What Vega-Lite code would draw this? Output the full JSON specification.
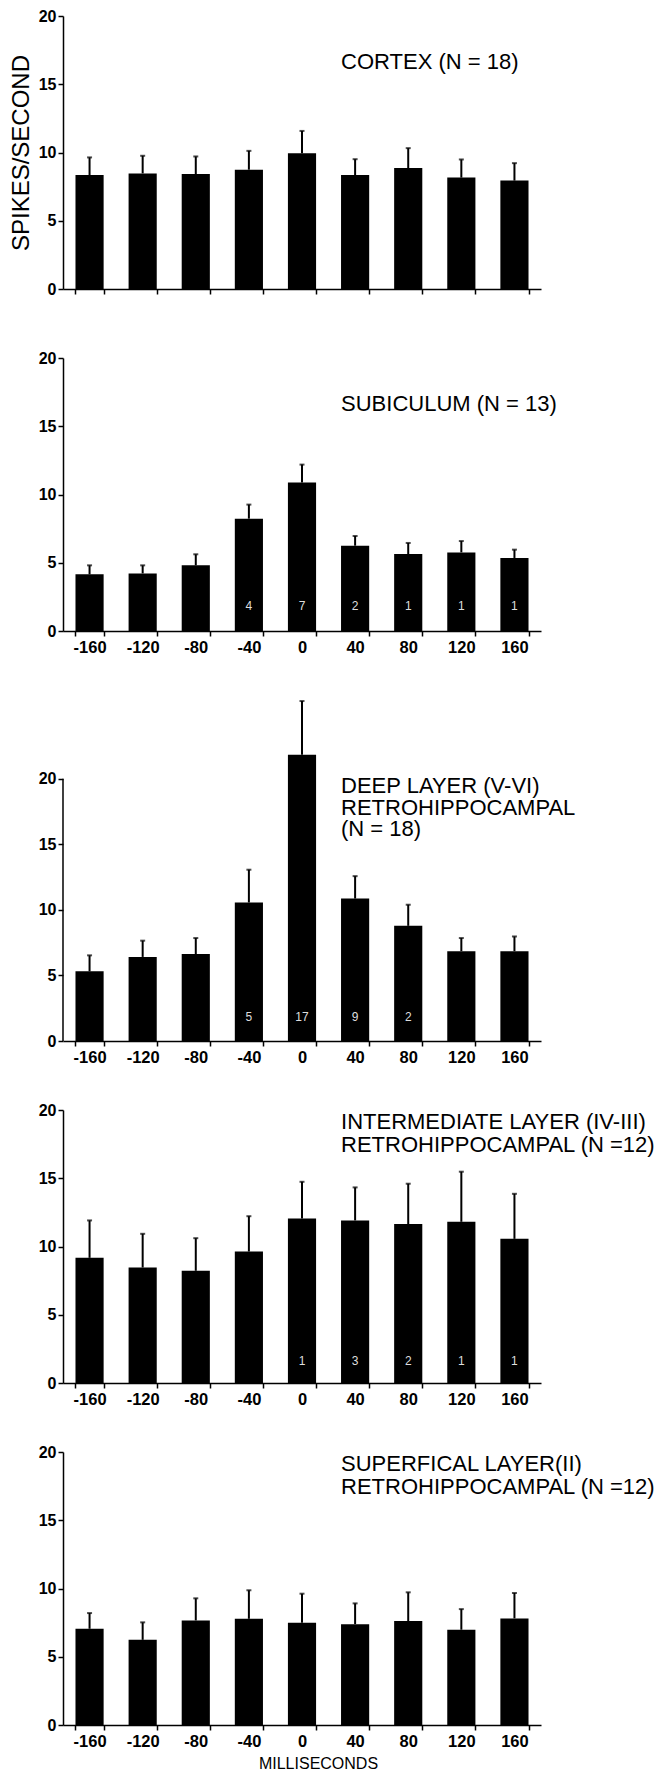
{
  "$schema": "https://vega.github.io/schema/vega-lite/v6.json",
  "background": "white",
  "padding": {"left": 9, "top": 8, "right": 0, "bottom": 0},
  "bounds": "flush",
  "spacing": 69,
  "config": {
    "font": "Liberation Sans",
    "view": {"stroke": null},
    "axis": {
      "domainColor": "black", "tickColor": "black", "labelColor": "black", "titleColor": "black",
      "grid": false, "domainWidth": 1.5, "tickWidth": 1.5, "tickSize": 5,
      "labelFont": "Liberation Sans", "titleFont": "Liberation Sans", "titleFontWeight": "normal", "labelFontWeight": "bold"
    },
    "axisX": {"labelFontSize": 16.5, "labelPadding": 3, "labelAngle": 0, "tickBand": "extent"},
    "axisY": {"labelFontSize": 16, "labelPadding": 2, "titleFontSize": 24, "titlePadding": 5}
  },
  "datasets": {
    "rates": [
      {"region": "cortex", "ms": -160, "mean": 8.35, "upper": 9.64},
      {"region": "cortex", "ms": -120, "mean": 8.47, "upper": 9.76},
      {"region": "cortex", "ms": -80, "mean": 8.42, "upper": 9.71},
      {"region": "cortex", "ms": -40, "mean": 8.74, "upper": 10.12},
      {"region": "cortex", "ms": 0, "mean": 9.95, "upper": 11.58},
      {"region": "cortex", "ms": 40, "mean": 8.35, "upper": 9.51},
      {"region": "cortex", "ms": 80, "mean": 8.86, "upper": 10.32},
      {"region": "cortex", "ms": 120, "mean": 8.16, "upper": 9.49},
      {"region": "cortex", "ms": 160, "mean": 7.94, "upper": 9.22},
      {"region": "subiculum", "ms": -160, "mean": 4.15, "upper": 4.81},
      {"region": "subiculum", "ms": -120, "mean": 4.22, "upper": 4.81},
      {"region": "subiculum", "ms": -80, "mean": 4.81, "upper": 5.62},
      {"region": "subiculum", "ms": -40, "mean": 8.23, "upper": 9.26, "n": 4},
      {"region": "subiculum", "ms": 0, "mean": 10.87, "upper": 12.19, "n": 7},
      {"region": "subiculum", "ms": 40, "mean": 6.25, "upper": 6.96, "n": 2},
      {"region": "subiculum", "ms": 80, "mean": 5.64, "upper": 6.45, "n": 1},
      {"region": "subiculum", "ms": 120, "mean": 5.76, "upper": 6.59, "n": 1},
      {"region": "subiculum", "ms": 160, "mean": 5.35, "upper": 5.96, "n": 1},
      {"region": "deep", "ms": -160, "mean": 5.31, "upper": 6.53},
      {"region": "deep", "ms": -120, "mean": 6.41, "upper": 7.65},
      {"region": "deep", "ms": -80, "mean": 6.63, "upper": 7.85},
      {"region": "deep", "ms": -40, "mean": 10.56, "upper": 13.06, "n": 5},
      {"region": "deep", "ms": 0, "mean": 21.83, "upper": 25.92, "n": 17},
      {"region": "deep", "ms": 40, "mean": 10.86, "upper": 12.57, "n": 9},
      {"region": "deep", "ms": 80, "mean": 8.78, "upper": 10.39, "n": 2},
      {"region": "deep", "ms": 120, "mean": 6.85, "upper": 7.85},
      {"region": "deep", "ms": 160, "mean": 6.85, "upper": 7.97},
      {"region": "intermediate", "ms": -160, "mean": 9.17, "upper": 11.91},
      {"region": "intermediate", "ms": -120, "mean": 8.46, "upper": 10.93},
      {"region": "intermediate", "ms": -80, "mean": 8.22, "upper": 10.61},
      {"region": "intermediate", "ms": -40, "mean": 9.63, "upper": 12.22},
      {"region": "intermediate", "ms": 0, "mean": 12.05, "upper": 14.74, "n": 1},
      {"region": "intermediate", "ms": 40, "mean": 11.91, "upper": 14.33, "n": 3},
      {"region": "intermediate", "ms": 80, "mean": 11.64, "upper": 14.6, "n": 2},
      {"region": "intermediate", "ms": 120, "mean": 11.81, "upper": 15.48, "n": 1},
      {"region": "intermediate", "ms": 160, "mean": 10.56, "upper": 13.86, "n": 1},
      {"region": "superficial", "ms": -160, "mean": 7.05, "upper": 8.2},
      {"region": "superficial", "ms": -120, "mean": 6.24, "upper": 7.52},
      {"region": "superficial", "ms": -80, "mean": 7.66, "upper": 9.28},
      {"region": "superficial", "ms": -40, "mean": 7.78, "upper": 9.87},
      {"region": "superficial", "ms": 0, "mean": 7.49, "upper": 9.62},
      {"region": "superficial", "ms": 40, "mean": 7.39, "upper": 8.91},
      {"region": "superficial", "ms": 80, "mean": 7.61, "upper": 9.72},
      {"region": "superficial", "ms": 120, "mean": 6.98, "upper": 8.49},
      {"region": "superficial", "ms": 160, "mean": 7.81, "upper": 9.67}
    ]
  },
  "vconcat": [
    {
      "width": 478, "height": 273,
      "data": {"name": "rates"},
      "transform": [{"filter": "datum.region === 'cortex'"}],
      "encoding": {"x": {"field": "ms", "type": "ordinal", "title": null, "scale": {"paddingInner": 0.47, "paddingOuter": 0.235}, "axis": {"labels": false}}},
      "layer": [
        {"mark": {"type": "bar", "color": "black"},
         "encoding": {"y": {"field": "mean", "type": "quantitative", "title": "SPIKES/SECOND", "scale": {"domain": [0, 20]}, "axis": {"values": [0, 5, 10, 15, 20], "titleFontSize": 24, "titlePadding": 5}}}},
        {"mark": {"type": "rule", "color": "black", "strokeWidth": 2},
         "encoding": {"y": {"field": "mean", "type": "quantitative", "title": "SPIKES/SECOND"}, "y2": {"field": "upper"}}},
        {"mark": {"type": "tick", "color": "black", "size": 5, "thickness": 2},
         "encoding": {"y": {"field": "upper", "type": "quantitative", "title": "SPIKES/SECOND"}}},
        {"data": {"values": [{"label": "CORTEX (N = 18)"}]},
         "mark": {"type": "text", "align": "left", "baseline": "alphabetic", "fontSize": 22, "color": "black"},
         "encoding": {"x": {"datum": 40, "type": "ordinal", "bandPosition": 0}, "y": {"datum": 16.1}, "text": {"field": "label"}}}
      ]
    },
    {
      "width": 478, "height": 273,
      "data": {"name": "rates"},
      "transform": [{"filter": "datum.region === 'subiculum'"}],
      "encoding": {"x": {"field": "ms", "type": "ordinal", "title": null, "scale": {"paddingInner": 0.47, "paddingOuter": 0.235}}},
      "layer": [
        {"mark": {"type": "bar", "color": "black"},
         "encoding": {"y": {"field": "mean", "type": "quantitative", "title": null, "scale": {"domain": [0, 20]}, "axis": {"values": [0, 5, 10, 15, 20]}}}},
        {"mark": {"type": "rule", "color": "black", "strokeWidth": 2},
         "encoding": {"y": {"field": "mean", "type": "quantitative", "title": null}, "y2": {"field": "upper"}}},
        {"mark": {"type": "tick", "color": "black", "size": 5, "thickness": 2},
         "encoding": {"y": {"field": "upper", "type": "quantitative", "title": null}}},
        {"transform": [{"filter": "datum.n != null"}],
         "mark": {"type": "text", "baseline": "middle", "fontSize": 12, "color": "#dedede"},
         "encoding": {"y": {"datum": 1.8}, "text": {"field": "n"}}},
        {"data": {"values": [{"label": "SUBICULUM (N = 13)"}]},
         "mark": {"type": "text", "align": "left", "baseline": "alphabetic", "fontSize": 22, "color": "black"},
         "encoding": {"x": {"datum": 40, "type": "ordinal", "bandPosition": 0}, "y": {"datum": 16.15}, "text": {"field": "label"}}}
      ]
    },
    {
      "width": 478, "height": 341,
      "data": {"name": "rates"},
      "transform": [{"filter": "datum.region === 'deep'"}],
      "encoding": {"x": {"field": "ms", "type": "ordinal", "title": null, "scale": {"paddingInner": 0.47, "paddingOuter": 0.235}}},
      "layer": [
        {"data": {"values": [{"axis": "y"}]},
         "mark": {"type": "rule", "color": "black", "strokeWidth": 1.5},
         "encoding": {"x": {"datum": -160, "type": "ordinal", "bandPosition": -0.4434}, "y": {"datum": 0}, "y2": {"datum": 20}}},
        {"mark": {"type": "bar", "color": "black"},
         "encoding": {"y": {"field": "mean", "type": "quantitative", "title": null, "scale": {"domain": [0, 25]}, "axis": {"values": [0, 5, 10, 15, 20], "domain": false}}}},
        {"mark": {"type": "rule", "color": "black", "strokeWidth": 2},
         "encoding": {"y": {"field": "mean", "type": "quantitative", "title": null}, "y2": {"field": "upper"}}},
        {"mark": {"type": "tick", "color": "black", "size": 5, "thickness": 2},
         "encoding": {"y": {"field": "upper", "type": "quantitative", "title": null}}},
        {"transform": [{"filter": "datum.n != null"}],
         "mark": {"type": "text", "baseline": "middle", "fontSize": 12, "color": "#dedede"},
         "encoding": {"y": {"datum": 1.8}, "text": {"field": "n"}}},
        {"data": {"values": [{"label": "DEEP LAYER (V-VI)\nRETROHIPPOCAMPAL\n(N = 18)"}]},
         "mark": {"type": "text", "align": "left", "baseline": "alphabetic", "fontSize": 22, "lineHeight": 21.5, "lineBreak": "\n", "color": "black"},
         "encoding": {"x": {"datum": 40, "type": "ordinal", "bandPosition": 0}, "y": {"datum": 18.9}, "text": {"field": "label"}}}
      ]
    },
    {
      "width": 478, "height": 273,
      "data": {"name": "rates"},
      "transform": [{"filter": "datum.region === 'intermediate'"}],
      "encoding": {"x": {"field": "ms", "type": "ordinal", "title": null, "scale": {"paddingInner": 0.47, "paddingOuter": 0.235}}},
      "layer": [
        {"mark": {"type": "bar", "color": "black"},
         "encoding": {"y": {"field": "mean", "type": "quantitative", "title": null, "scale": {"domain": [0, 20]}, "axis": {"values": [0, 5, 10, 15, 20]}}}},
        {"mark": {"type": "rule", "color": "black", "strokeWidth": 2},
         "encoding": {"y": {"field": "mean", "type": "quantitative", "title": null}, "y2": {"field": "upper"}}},
        {"mark": {"type": "tick", "color": "black", "size": 5, "thickness": 2},
         "encoding": {"y": {"field": "upper", "type": "quantitative", "title": null}}},
        {"transform": [{"filter": "datum.n != null"}],
         "mark": {"type": "text", "baseline": "middle", "fontSize": 12, "color": "#dedede"},
         "encoding": {"y": {"datum": 1.6}, "text": {"field": "n"}}},
        {"data": {"values": [{"label": "INTERMEDIATE LAYER (IV-III)\nRETROHIPPOCAMPAL (N =12)"}]},
         "mark": {"type": "text", "align": "left", "baseline": "alphabetic", "fontSize": 22, "lineHeight": 22.5, "lineBreak": "\n", "color": "black"},
         "encoding": {"x": {"datum": 40, "type": "ordinal", "bandPosition": 0}, "y": {"datum": 18.6}, "text": {"field": "label"}}}
      ]
    },
    {
      "width": 478, "height": 273,
      "data": {"name": "rates"},
      "transform": [{"filter": "datum.region === 'superficial'"}],
      "encoding": {"x": {"field": "ms", "type": "ordinal", "title": "MILLISECONDS", "scale": {"paddingInner": 0.47, "paddingOuter": 0.235}, "axis": {"titleFontSize": 16, "titlePadding": 6, "titleX": 255}}},
      "layer": [
        {"mark": {"type": "bar", "color": "black"},
         "encoding": {"y": {"field": "mean", "type": "quantitative", "title": null, "scale": {"domain": [0, 20]}, "axis": {"values": [0, 5, 10, 15, 20]}}}},
        {"mark": {"type": "rule", "color": "black", "strokeWidth": 2},
         "encoding": {"y": {"field": "mean", "type": "quantitative", "title": null}, "y2": {"field": "upper"}}},
        {"mark": {"type": "tick", "color": "black", "size": 5, "thickness": 2},
         "encoding": {"y": {"field": "upper", "type": "quantitative", "title": null}}},
        {"data": {"values": [{"label": "SUPERFICAL LAYER(II)\nRETROHIPPOCAMPAL (N =12)"}]},
         "mark": {"type": "text", "align": "left", "baseline": "alphabetic", "fontSize": 22, "lineHeight": 23, "lineBreak": "\n", "color": "black"},
         "encoding": {"x": {"datum": 40, "type": "ordinal", "bandPosition": 0}, "y": {"datum": 18.6}, "text": {"field": "label"}}}
      ]
    }
  ]
}
